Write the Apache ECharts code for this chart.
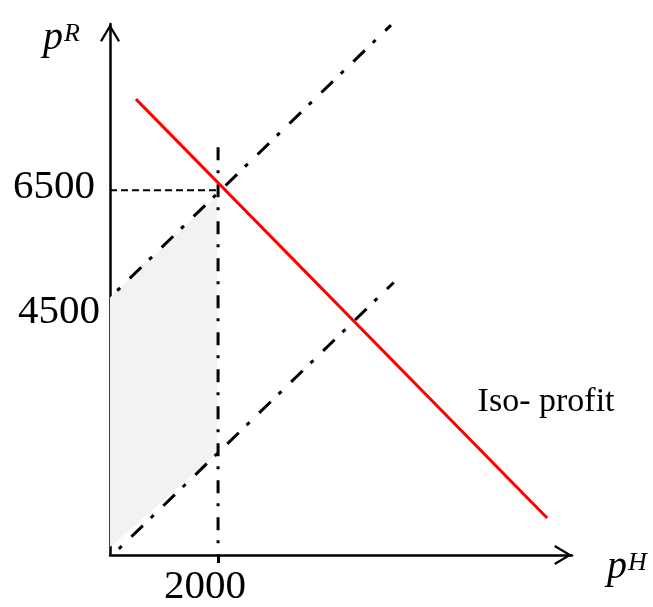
<!DOCTYPE html>
<html>
<head>
<meta charset="utf-8">
<script src="https://cdn.jsdelivr.net/npm/echarts@6/dist/echarts.min.js"></script>
<style>
    html, body { margin: 0; padding: 0; background: #fff; }
    #chart { width: 653px; height: 607px; }
</style>
</head>
<body>
<div id="chart"></div>
<script>
// tick labels
var xTicks = [2000];
var yTicks = [4500, 6500];

// dash-dot constraint lines
var upperX = [0, 5200];
var upperY = [4500, 9580];
var lowerX = [150, 5250];
var lowerY = [-200, 4780];

// iso-profit line
var isoX = [480, 8090];
var isoY = [8200, 390];

// guide lines at pH = 2000, pR = 6500
var vertX = [2000, 2000];
var vertY = [7300, -300];
var horizX = [0, 2000];
var horizY = [6500, 6500];

// shaded area
var shadeX = [0, 1980, 1980, 0];
var shadeY = [4500, 6400, 1590, -150];

var isoLabel = [8070, 2550, 'Iso- profit'];

var serif = "'Liberation Serif', 'DejaVu Serif', serif";
var arrow = 'path://M10,0 L20,16.6 L18.1,17.8 L10,4.2 L1.9,17.8 L0,16.6 Z';

function pairs(xs, ys) {
    var out = [];
    for (var i = 0; i < xs.length; i++) {
        out.push([xs[i], ys[i]]);
    }
    return out;
}

var nameRich = {
    p: { fontFamily: serif, fontStyle: 'italic', fontSize: 40, lineHeight: 40, color: '#000' },
    s: { fontFamily: serif, fontStyle: 'italic', fontSize: 26, lineHeight: 26, color: '#000', verticalAlign: 'top', padding: [3, 0, 0, 1] }
};

var chart = echarts.init(document.getElementById('chart'));

var option = {
    animation: false,
    grid: { left: 110, right: 81, top: 24, bottom: 52, outerBoundsMode: 'none' },
    xAxis: {
        type: 'value',
        min: 0,
        max: 8550,
        splitLine: { show: false },
        axisLine: {
            onZero: false,
            symbol: ['none', arrow],
            symbolSize: [20, 18],
            symbolOffset: [0, -9],
            lineStyle: { color: '#000', width: 2.5 }
        },
        axisTick: { show: true, customValues: xTicks, length: 8, lineStyle: { color: '#000', width: 3 } },
        axisLabel: {
            customValues: xTicks,
            margin: 12,
            formatter: function (v) { return '{a|' + v + '}'; },
            rich: { a: { fontFamily: serif, fontSize: 41, color: '#000', padding: [0, 26, 0, 0] } }
        },
        name: '{p|p}{s|H}',
        nameLocation: 'end',
        nameGap: 35,
        nameTextStyle: {
            padding: [24, 0, 0, 0],
            rich: nameRich
        }
    },
    yAxis: {
        type: 'value',
        min: -300,
        max: 9600,
        splitLine: { show: false },
        axisLine: {
            onZero: false,
            symbol: ['none', arrow],
            symbolSize: [20, 18],
            symbolOffset: [0, -9],
            lineStyle: { color: '#000', width: 2.5 }
        },
        axisTick: { show: false },
        axisLabel: {
            customValues: yTicks,
            margin: 10,
            formatter: function (v) { return v == 4500 ? '{b|' + v + '}' : '{a|' + v + '}'; },
            rich: {
                a: { fontFamily: serif, fontSize: 41, color: '#000', padding: [0, 5, 6, 0] },
                b: { fontFamily: serif, fontSize: 41, color: '#000', padding: [30, 0, 0, 0] }
            }
        },
        name: '{p|p}{s|R}',
        nameLocation: 'end',
        nameGap: -14,
        nameTextStyle: {
            align: 'right',
            verticalAlign: 'middle',
            padding: [0, 30, 0, 0],
            rich: nameRich
        }
    },
    series: [
        {
            type: 'custom',
            z: 1,
            silent: true,
            data: [0],
            renderItem: function (params, api) {
                var pts = [];
                for (var i = 0; i < shadeX.length; i++) {
                    pts.push(api.coord([shadeX[i], shadeY[i]]));
                }
                return { type: 'polygon', shape: { points: pts }, style: { fill: '#f2f2f2' } };
            }
        },
        {
            type: 'line',
            z: 3,
            symbol: 'none',
            data: pairs(horizX, horizY),
            lineStyle: { color: '#000', width: 2, type: [7, 4] }
        },
        {
            type: 'line',
            z: 3,
            symbol: 'none',
            clip: false,
            data: pairs(vertX, vertY),
            lineStyle: { color: '#000', width: 3, type: [13, 10, 3, 11] }
        },
        {
            type: 'line',
            z: 3,
            symbol: 'none',
            data: pairs(upperX, upperY),
            lineStyle: { color: '#000', width: 3, type: [16, 11, 4, 13.5], dashOffset: 17 }
        },
        {
            type: 'line',
            z: 3,
            symbol: 'none',
            data: pairs(lowerX, lowerY),
            lineStyle: { color: '#000', width: 3, type: [16, 11, 4, 13.5], dashOffset: 26 }
        },
        {
            type: 'line',
            z: 4,
            symbol: 'none',
            data: pairs(isoX, isoY),
            lineStyle: { color: '#ff0000', width: 3 }
        },
        {
            type: 'scatter',
            z: 5,
            symbolSize: 0,
            itemStyle: { opacity: 1 },
            data: [isoLabel],
            label: {
                show: true,
                position: 'inside',
                formatter: function (p) { return p.value[2]; },
                fontFamily: serif,
                fontSize: 34,
                color: '#000',
                opacity: 1
            }
        }
    ]
};

chart.setOption(option);
</script>
</body>
</html>
